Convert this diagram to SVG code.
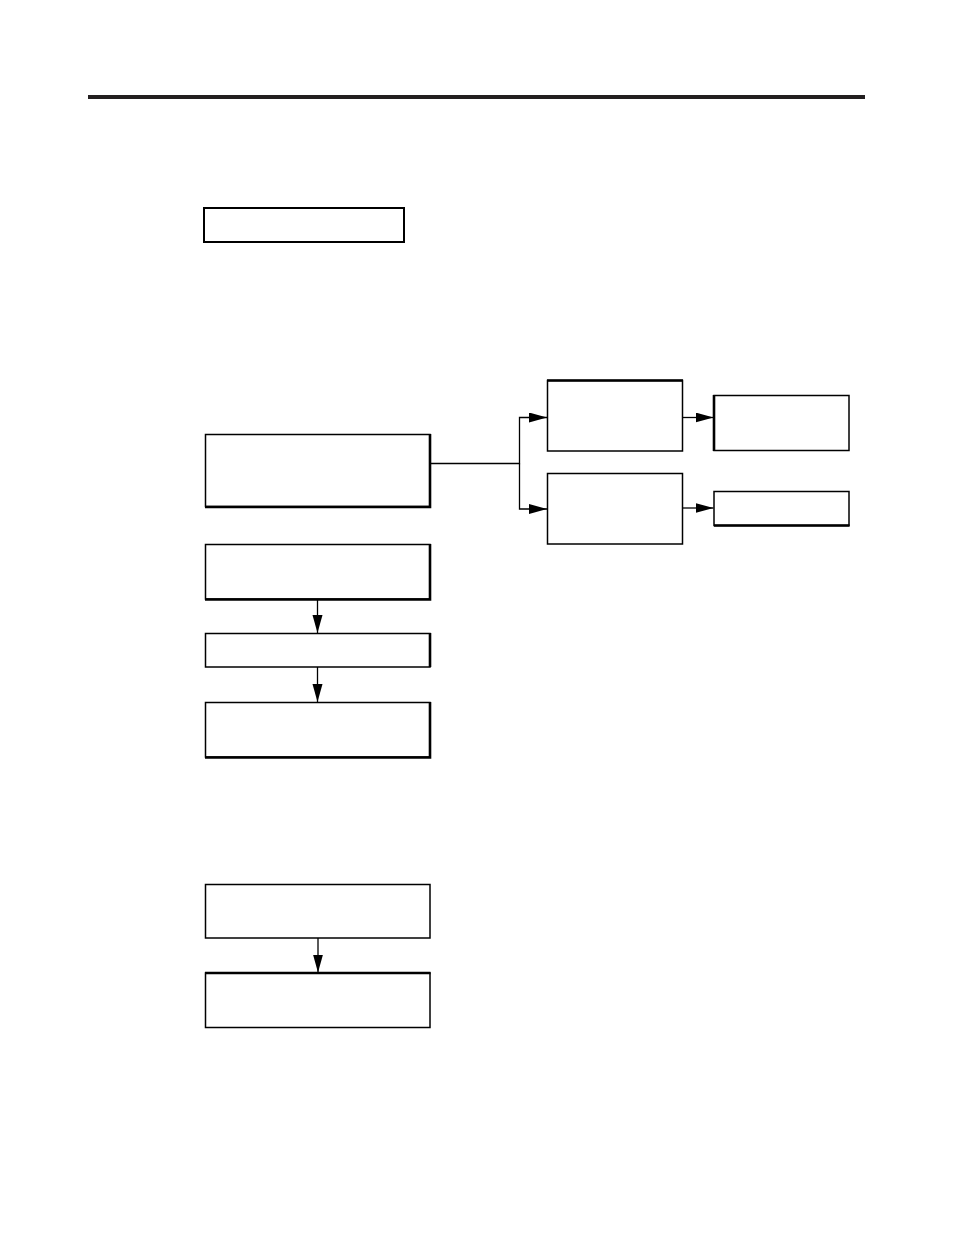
<svg xmlns="http://www.w3.org/2000/svg" width="954" height="1235" viewBox="0 0 954 1235">
<style>
.box{fill:#fff;stroke:#000;stroke-width:1.5}
.thick{fill:none;stroke:#000;stroke-width:2.6}
.conn{fill:none;stroke:#000;stroke-width:1.3}
</style>
<defs>
<marker id="arr" markerUnits="userSpaceOnUse" markerWidth="19" markerHeight="11" refX="18" refY="5" orient="auto">
<path d="M0,0 L18,5 L0,10 z" fill="#000"/>
</marker>
</defs>
<rect x="88" y="95" width="777" height="4" fill="#231f20"/>
<g id="n1"><rect class="box" x="204" y="208" width="200" height="34" style="stroke-width:2"/></g>
<g id="n2"><rect class="box" x="205.5" y="434.5" width="224.5" height="72"/><path class="thick" d="M430,434 V507 H205"/></g>
<g id="n3"><rect class="box" x="547.5" y="380.5" width="135" height="70.5"/><path class="thick" d="M547,380.5 H683"/></g>
<g id="n4"><rect class="box" x="547.5" y="473.5" width="135" height="70.5"/></g>
<g id="n5"><rect class="box" x="714" y="395.5" width="135" height="55"/><path class="thick" d="M714,395 V451"/></g>
<g id="n6"><rect class="box" x="714" y="491.5" width="135" height="34"/><path class="thick" d="M714,525.5 H849.5"/></g>
<g id="n7"><rect class="box" x="205.5" y="544.5" width="224.5" height="54.5"/><path class="thick" d="M430,544 V599.5 H205"/></g>
<g id="n8"><rect class="box" x="205.5" y="633.5" width="224.5" height="33.5"/><path class="thick" d="M430,633 V667"/></g>
<g id="n9"><rect class="box" x="205.5" y="702.5" width="224.5" height="54.5"/><path class="thick" d="M430,702 V757.5 H205"/></g>
<g id="n10"><rect class="box" x="205.5" y="884.5" width="224.5" height="53.5"/></g>
<g id="n11"><rect class="box" x="205.5" y="973" width="224.5" height="54.5"/><path class="thick" d="M205,973 H430.5"/></g>
<g id="connectors">
<path class="conn" d="M430,463.5 H519.5 V417.5 H547" marker-end="url(#arr)"/>
<path class="conn" d="M519.5,463.5 V509 H547" marker-end="url(#arr)"/>
<path class="conn" d="M683,417.5 H713.5" marker-end="url(#arr)"/>
<path class="conn" d="M683,508 H713.5" marker-end="url(#arr)"/>
<path class="conn" d="M317.5,599.5 V633" marker-end="url(#arr)"/>
<path class="conn" d="M317.5,667 V702" marker-end="url(#arr)"/>
<path class="conn" d="M318,938 V972.5" marker-end="url(#arr)"/>
</g>
</svg>
